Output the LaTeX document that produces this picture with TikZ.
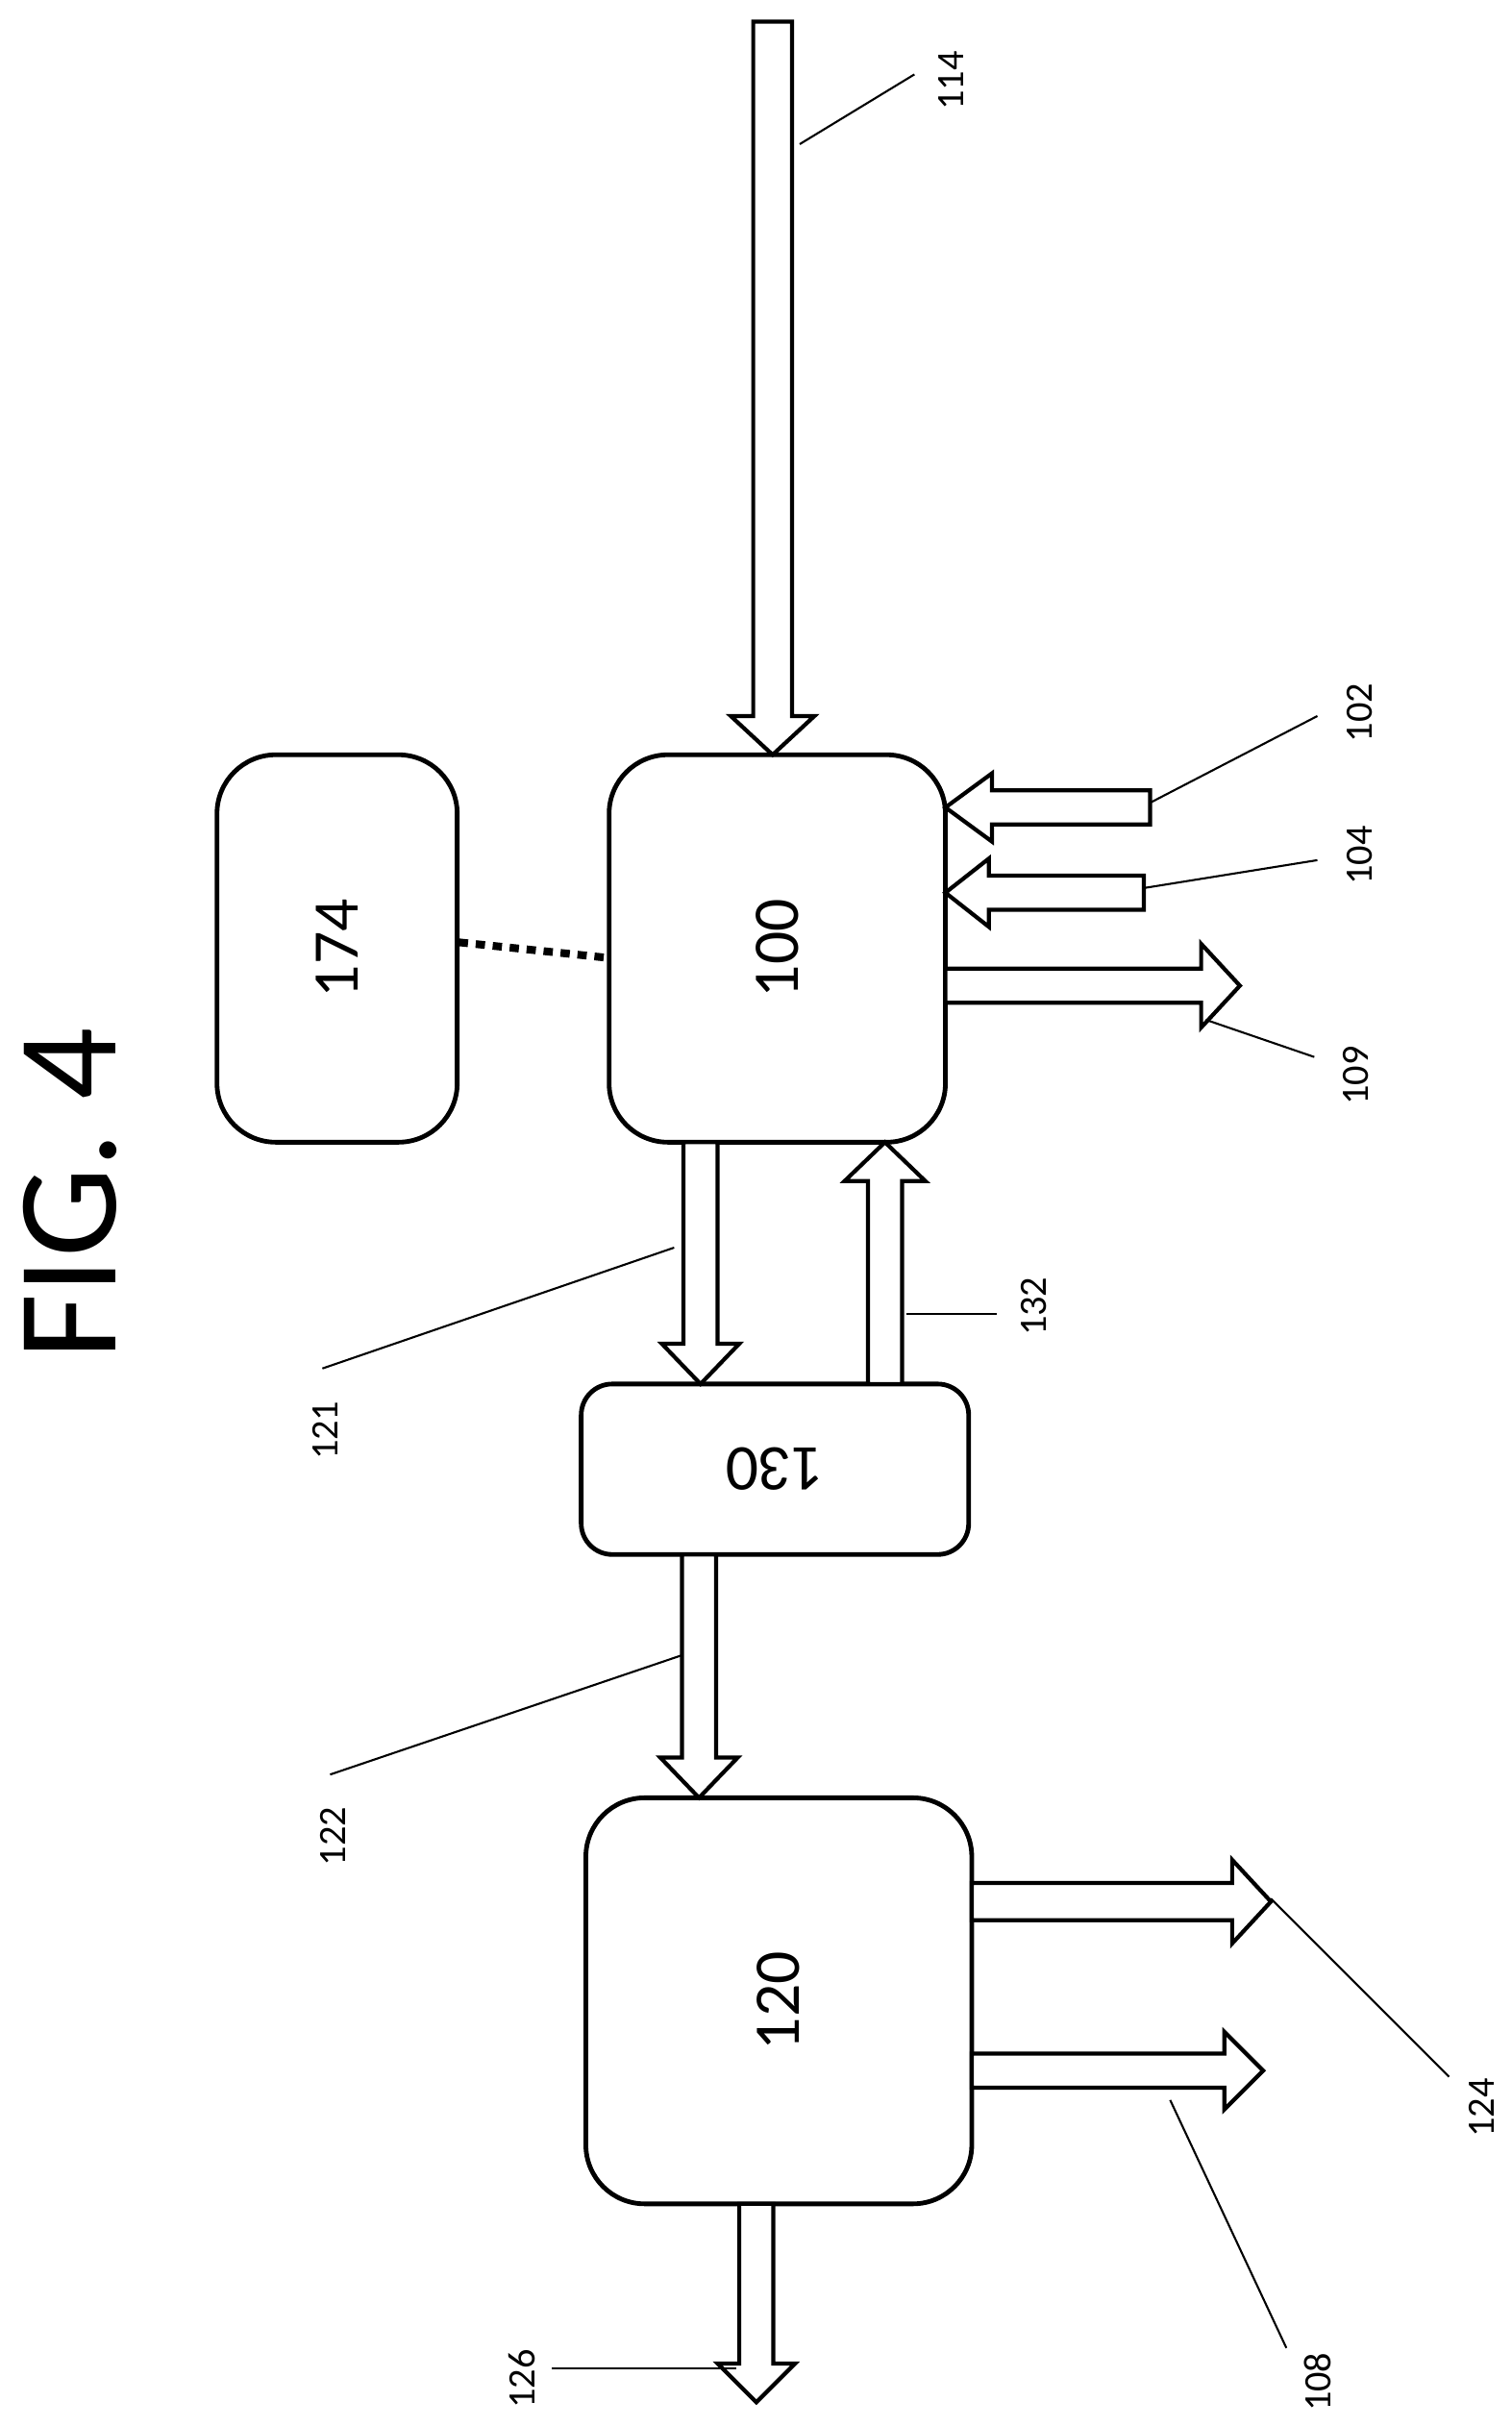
\documentclass[tikz,border=0pt]{standalone}
\usepackage{fontspec}
\setmainfont{Carlito}
\begin{document}
\begin{tikzpicture}[x=1pt,y=-1pt,
  box/.style={draw,line width=3pt,rounded corners=38pt},
  arr/.style={draw,line width=2.6pt,fill=white,line join=miter},
  lead/.style={line width=1.3pt},
  lbl/.style={font=\fontsize{25}{25}\selectfont,rotate=90,inner sep=0pt},
  big/.style={font=\fontsize{42}{42}\selectfont,rotate=90}]
\useasboundingbox (0,0) rectangle (975,1566);
\newcommand\hArr[6]{\path[arr] ({#1},{#3-#4})--({#2-#5},{#3-#4})--({#2-#5},{#3-#6})--({#2},{#3})--({#2-#5},{#3+#6})--({#2-#5},{#3+#4})--({#1},{#3+#4})--cycle;}
\newcommand\vArr[6]{\path[arr] ({#3-#4},{#1})--({#3-#4},{#2-#5})--({#3-#6},{#2-#5})--({#3},{#2})--({#3+#6},{#2-#5})--({#3+#4},{#2-#5})--({#3+#4},{#1})--cycle;}
% boxes
\draw[box] (393,487) rectangle (610,737);
\node[big] (n100) at (501.5,612) {100};
\draw[box] (140,487) rectangle (295,737);
\node[big] (n174) at (217.5,612) {174};
\draw[box,rounded corners=20pt] (375,893) rectangle (625,1003);
\node[big,rotate=90] (n130) at (500,948) {130};
\draw[box] (378,1160) rectangle (627,1422);
\node[big] (n120) at (502.5,1291) {120};
% dotted link
\draw[line width=5pt,dash pattern=on 6pt off 5pt] (296,608) -- (392,618);
% arrows
\vArr{14}{487}{498.5}{12.5}{25}{27}
\hArr{742}{610}{521}{11}{-30}{22}
\hArr{738}{610}{576}{11}{-28}{22}
\hArr{610}{800}{636}{11}{25}{27}
\vArr{737}{893}{452}{11}{26}{25}
\vArr{893}{737}{571}{11}{-25}{26}
\vArr{1003}{1160}{451}{11}{26}{25}
\hArr{627}{820}{1227}{12}{25}{27}
\hArr{627}{815}{1336}{11}{25}{25}
\vArr{1422}{1550}{488}{11}{25}{25}
% leaders
\draw[lead] (516,93) -- (590,48);
\draw[lead] (742,518) -- (850,462);
\draw[lead] (738,573) -- (850,555);
\draw[lead] (778,658) -- (848,682);
\draw[lead] (585,848) -- (643,848);
\draw[lead] (208,883) -- (435,805);
\draw[lead] (213,1145) -- (440,1068);
\draw[lead] (820,1225) -- (935,1340);
\draw[lead] (755,1355) -- (830,1515);
\draw[lead] (356,1528) -- (475,1528);
% labels
\node[lbl] (l114) at (614,52) {114};
\node[lbl] (l102) at (877,460) {102};
\node[lbl] (l104) at (877,552) {104};
\node[lbl] (l109) at (875,694) {109};
\node[lbl] (l132) at (667,843) {132};
\node[lbl] (l121) at (210,923) {121};
\node[lbl] (l122) at (215,1185) {122};
\node[lbl] (l124) at (956,1360) {124};
\node[lbl] (l108) at (850,1537) {108};
\node[lbl] (l126) at (337,1535) {126};
\node[rotate=90,font=\fontsize{92}{92}\selectfont] (fig) at (45,770) {FIG. 4};
\end{tikzpicture}
\end{document}
